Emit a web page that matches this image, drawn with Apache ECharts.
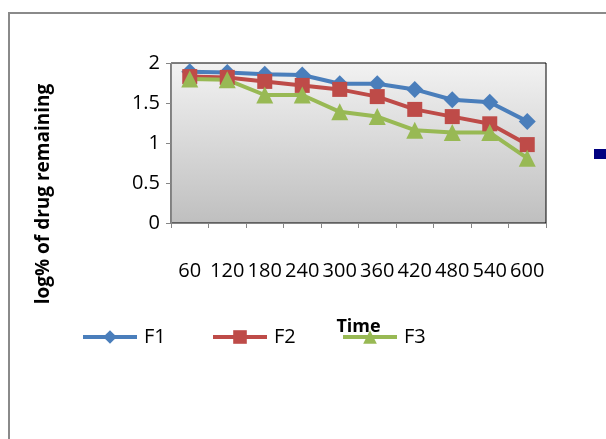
<!DOCTYPE html>
<html><head><meta charset="utf-8">
<script src="https://cdn.jsdelivr.net/npm/echarts@6/dist/echarts.min.js"></script>
<style>html,body{margin:0;padding:0;background:#fff}#c{width:606px;height:439px}</style>
</head><body><div id="c"></div>
<script>
var categories = ['60','120','180','240','300','360','420','480','540','600'];
var F1 = [1.89, 1.88, 1.86, 1.85, 1.74, 1.74, 1.67, 1.54, 1.51, 1.27];
var F2 = [1.83, 1.82, 1.77, 1.72, 1.67, 1.58, 1.42, 1.33, 1.24, 0.98];
var F3 = [1.80, 1.79, 1.60, 1.60, 1.39, 1.33, 1.16, 1.13, 1.13, 0.81];
var yTicks = [0, 0.5, 1, 1.5, 2];

var font = '"Open Sans", Lato, sans-serif';
var chart = echarts.init(document.getElementById('c'), null, {renderer:'canvas'});
function legendAt(name, left){
  return {data:[name], left:left, top:322, itemWidth:54, itemHeight:17, itemGap:0,
    lineStyle:{width:4},
    textStyle:{fontFamily:font, fontSize:20, color:'#000', padding:[0,0,0,2]}};
}
function ser(name, data, color, symbol, size){
  return {name:name, type:'line', data:data, symbol:symbol, symbolSize:size,
    lineStyle:{color:color, width:4}, itemStyle:{color:color}, animation:false};
}
chart.setOption({
  animation:false,
  grid:{left:171, top:63, width:375, height:160, show:true, borderColor:'#000', borderWidth:1,
    backgroundColor:{type:'linear', x:0, y:0, x2:0, y2:1, colorStops:[{offset:0,color:'#f2f2f2'},{offset:1,color:'#bfbfbf'}]}},
  legend:[legendAt('F1',76), legendAt('F2',206), legendAt('F3',336)],
  xAxis:{type:'category', data:categories, boundaryGap:true,
    name:'Time', nameLocation:'middle', nameGap:95,
    nameTextStyle:{fontFamily:font, fontSize:18, fontWeight:'bold', color:'#000'},
    axisLine:{lineStyle:{color:'#868686', width:1}},
    axisTick:{show:true, length:5, lineStyle:{color:'#868686'}},
    axisLabel:{interval:0, margin:38, fontFamily:font, fontSize:20, color:'#000', hideOverlap:false},
    splitLine:{show:false}},
  yAxis:{type:'value', min:0, max:2, interval:0.5,
    axisLine:{show:true, lineStyle:{color:'#868686', width:1}},
    axisTick:{show:true, length:5, lineStyle:{color:'#868686'}},
    axisLabel:{margin:11, fontFamily:font, fontSize:20, color:'#000',
      formatter:function(v){return yTicks.indexOf(v)>=0 ? String(v) : '';}},
    splitLine:{show:false}},
  series:[
    ser('F1', F1, '#4a7ebb', 'diamond', 17),
    ser('F2', F2, '#be4b48', 'rect', 15),
    ser('F3', F3, '#98b954', 'triangle', 17)
  ],
  graphic:[
    {type:'rect', shape:{x:9, y:13, width:700, height:500}, style:{fill:null, stroke:'#8a8a8a', lineWidth:2}, silent:true},
    {type:'rect', shape:{x:594, y:149, width:14, height:10}, style:{fill:'#000080'}, silent:true},
    {type:'text', x:44, y:194, rotation:Math.PI/2,
      style:{text:'log% of drug remaining', font:'bold 19px "Open Sans", Lato, sans-serif', fill:'#000', align:'center', verticalAlign:'middle'}}
  ]
});
</script></body></html>
